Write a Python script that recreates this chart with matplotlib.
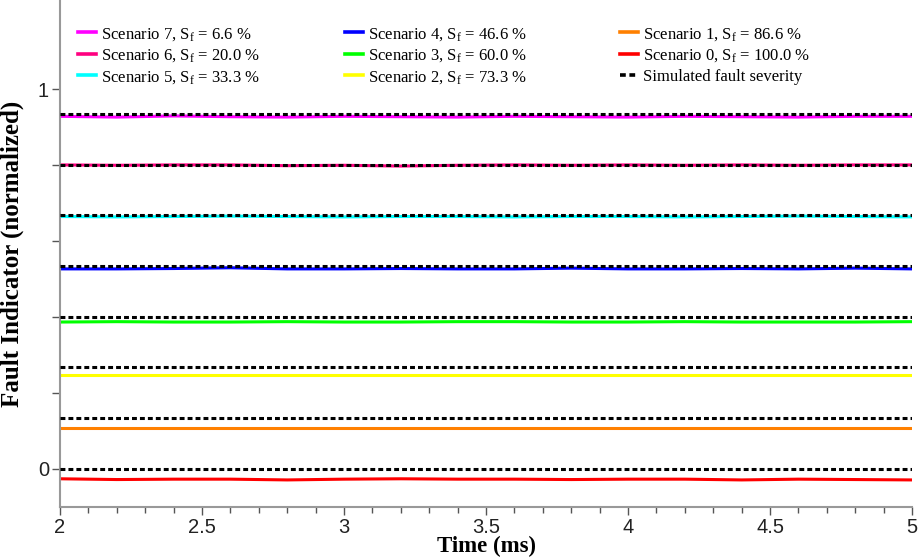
import numpy as np
import matplotlib
matplotlib.use("Agg")
import matplotlib.pyplot as plt
from matplotlib.ticker import MultipleLocator, FormatStrFormatter
from matplotlib.legend import Legend

plt.rcParams['mathtext.fontset'] = 'custom'
plt.rcParams['mathtext.rm'] = 'Liberation Serif'
plt.rcParams['mathtext.it'] = 'Liberation Serif:italic'

time_ms = [2.0, 2.2, 2.4, 2.6, 2.8, 3.0, 3.2, 3.4, 3.6, 3.8, 4.0, 4.2, 4.4, 4.6, 4.8, 5.0]

scenario_names = ["Scenario 7", "Scenario 6", "Scenario 5", "Scenario 4",
                  "Scenario 3", "Scenario 2", "Scenario 1", "Scenario 0"]
severity_pct = [6.6, 20.0, 33.3, 46.6, 60.0, 73.3, 86.6, 100.0]
colors = ["#ff00ff", "#ff0080", "#00ffff", "#0000ff",
          "#00ff00", "#ffff00", "#ff8000", "#ff0000"]

fault_indicator = [
    [0.928, 0.926, 0.929, 0.927, 0.926, 0.928, 0.927, 0.926, 0.928, 0.927, 0.926, 0.928, 0.927, 0.926, 0.928, 0.928],
    [0.800, 0.799, 0.800, 0.800, 0.798, 0.799, 0.797, 0.799, 0.800, 0.799, 0.800, 0.799, 0.800, 0.799, 0.800, 0.800],
    [0.664, 0.663, 0.664, 0.665, 0.664, 0.663, 0.664, 0.664, 0.663, 0.664, 0.664, 0.663, 0.664, 0.665, 0.664, 0.663],
    [0.526, 0.526, 0.527, 0.529, 0.526, 0.526, 0.527, 0.526, 0.526, 0.528, 0.526, 0.526, 0.527, 0.526, 0.528, 0.526],
    [0.386, 0.387, 0.386, 0.386, 0.387, 0.386, 0.386, 0.387, 0.387, 0.386, 0.386, 0.387, 0.386, 0.386, 0.386, 0.387],
    [0.246, 0.246, 0.246, 0.246, 0.246, 0.246, 0.246, 0.246, 0.246, 0.246, 0.246, 0.246, 0.246, 0.246, 0.246, 0.246],
    [0.108, 0.108, 0.108, 0.108, 0.108, 0.108, 0.108, 0.108, 0.108, 0.108, 0.108, 0.108, 0.108, 0.108, 0.108, 0.108],
    [-0.027, -0.029, -0.028, -0.028, -0.030, -0.028, -0.027, -0.028, -0.028, -0.029, -0.028, -0.028, -0.030, -0.028, -0.029, -0.030],
]

simulated_severity = [0.934, 0.800, 0.667, 0.534, 0.400, 0.267, 0.134, 0.000]

fig = plt.figure(figsize=(9.19, 5.6), dpi=100)
ax = fig.add_axes([0.0653, 0.0946, 0.9271, 0.9054])

handles = []
for name, sf, c, vals in zip(scenario_names, severity_pct, colors, fault_indicator):
    h, = ax.plot(time_ms, vals, color=c, lw=2.2, zorder=2,
                 label=f"{name}, S$_\\mathrm{{f}}$ = {sf:.1f} %")
    handles.append(h)

for i, lvl in enumerate(simulated_severity):
    h, = ax.plot([time_ms[0], time_ms[-1]], [lvl, lvl], color="black", lw=2.2,
                 dashes=(1.6, 1.0), zorder=3,
                 label="Simulated fault severity" if i == 0 else None)
    if i == 0:
        dash_handle = h
handles.append(dash_handle)

ax.set_xlim(2, 5)
ax.set_ylim(-0.1014, 1.2345)

ax.xaxis.set_major_locator(MultipleLocator(0.5))
ax.xaxis.set_minor_locator(MultipleLocator(0.1))
ax.xaxis.set_major_formatter(FormatStrFormatter("%g"))
ax.set_yticks([0, 0.2, 0.4, 0.6, 0.8, 1.0])
ax.set_yticklabels(["0", "", "", "", "", "1"])

for s in ["top", "right"]:
    ax.spines[s].set_visible(False)
for s in ["left", "bottom"]:
    ax.spines[s].set_color("#999999")
    ax.spines[s].set_linewidth(1.5)

ax.tick_params(axis="both", which="both", direction="out", color="#555555")
ax.tick_params(axis="both", which="major", length=6, width=1, labelsize=14.5, pad=2)
ax.tick_params(axis="x", which="minor", length=4, width=1)
for lab in ax.get_xticklabels() + ax.get_yticklabels():
    lab.set_fontfamily("Liberation Sans")
    lab.set_color("#222222")

ax.set_xlabel("Time (ms)", fontfamily="Liberation Serif", fontweight="bold",
              fontsize=16.5)
ax.xaxis.set_label_coords(0.5, -0.056)
ax.set_ylabel("Fault Indicator (normalized)", fontfamily="Liberation Serif",
              fontweight="bold", fontsize=18)
ax.yaxis.set_label_coords(-0.042, 0.5)

prop = {"family": "Liberation Serif", "size": 12}
col_x = [78, 345, 620]
for k in range(3):
    leg = Legend(ax, handles[3 * k:3 * k + 3],
                 [h.get_label() for h in handles[3 * k:3 * k + 3]],
                 loc="upper left",
                 bbox_to_anchor=((col_x[k] - 60) / 852, 0.949),
                 frameon=False, prop=prop, handlelength=1.05,
                 handletextpad=0.35, labelspacing=0.28,
                 borderpad=0, borderaxespad=0)
    for h in leg.legend_handles:
        h.set_linewidth(2.6)
    ax.add_artist(leg)

fig.savefig("out.png", dpi=100)
